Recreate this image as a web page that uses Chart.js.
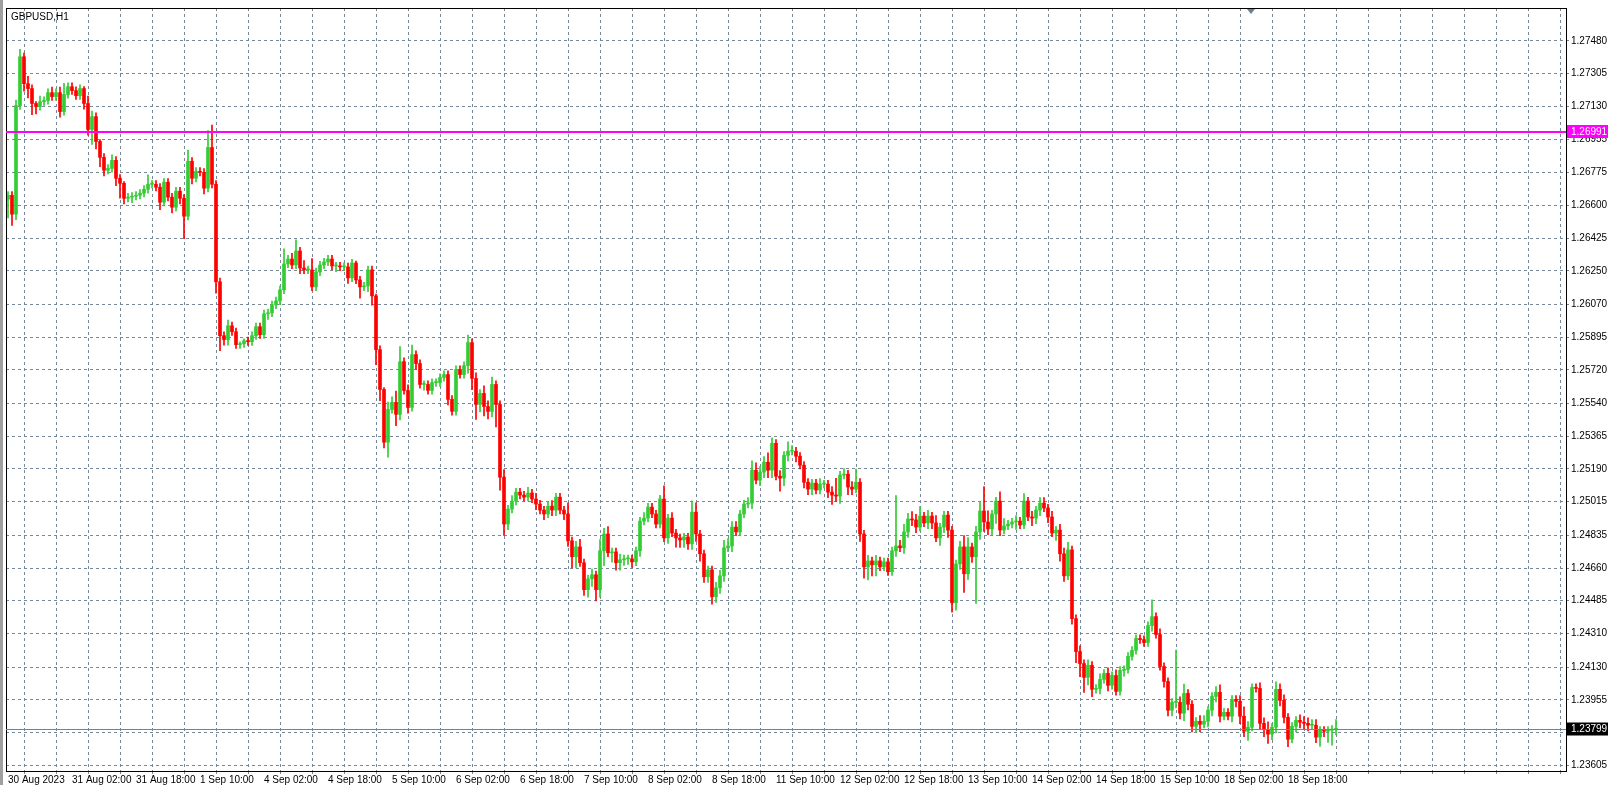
<!DOCTYPE html>
<html><head><meta charset="utf-8">
<script src="https://cdn.jsdelivr.net/npm/chart.js@4.4.0/dist/chart.umd.min.js"></script>
<style>html,body{margin:0;padding:0;background:#fff;}#wrap{width:1608px;height:785px;position:relative;}</style>
</head><body><div id="wrap"><canvas id="c" width="1608" height="785"></canvas></div>
<script>
const symbolTitle = "GBPUSD,H1";
const firstOpen = 1.26633;
const closes = [
1.26654,1.26553,1.27134,1.27395,1.27251,1.27225,1.27145,1.27129,1.27155,1.27161,
1.27203,1.27182,1.27203,1.27102,1.27193,1.27235,1.27214,1.27187,1.27225,1.27145,
1.27006,1.27075,1.26942,1.26857,1.26788,1.26798,1.26841,1.26745,1.26718,1.26638,
1.26644,1.26649,1.26654,1.26665,1.26686,1.26713,1.26713,1.26697,1.26617,1.26724,
1.26644,1.26590,1.26676,1.26638,1.26542,1.26836,1.26745,1.26782,1.26777,1.26692,
1.26910,1.26713,1.26191,1.25903,1.25882,1.25956,1.25924,1.25855,1.25860,1.25876,
1.25871,1.25903,1.25951,1.25908,1.26020,1.26025,1.26068,1.26089,1.26148,1.26287,
1.26313,1.26281,1.26356,1.26265,1.26255,1.26255,1.26164,1.26244,1.26281,1.26297,
1.26313,1.26276,1.26276,1.26271,1.26271,1.26212,1.26292,1.26201,1.26164,1.26169,
1.26255,1.26116,1.25828,1.25615,1.25333,1.25508,1.25546,1.25482,1.25764,1.25610,
1.25519,1.25802,1.25754,1.25642,1.25642,1.25610,1.25652,1.25652,1.25679,1.25695,
1.25562,1.25498,1.25722,1.25695,1.25743,1.25866,1.25674,
1.25535,1.25594,1.25524,1.25498,1.25642,1.25535,1.25146,1.24895,1.24975,1.25018,
1.25066,1.25050,1.25039,1.25061,1.25029,1.25002,1.24970,1.24949,1.24991,1.24970,
1.25039,1.24970,1.24949,1.24805,1.24720,1.24773,1.24688,1.24544,1.24602,1.24624,
1.24544,1.24752,1.24842,1.24741,1.24746,1.24688,1.24704,1.24709,1.24709,1.24693,
1.24752,1.24911,1.24927,1.24986,1.24949,1.24895,1.25029,1.24821,1.24927,1.24847,
1.24821,1.24810,1.24826,1.24789,1.24959,1.24842,1.24736,1.24613,1.24650,1.24506,
1.24554,1.24618,1.24768,1.24778,1.24879,1.24853,1.24949,1.25002,1.25007,1.25183,
1.25130,1.25173,1.25226,1.25183,
1.25327,1.25151,1.25141,1.25263,1.25285,1.25285,1.25258,1.25210,1.25119,1.25082,
1.25114,1.25077,1.25109,1.25109,1.25066,1.25050,1.25045,1.25157,1.25162,1.25093,
1.25082,1.25119,1.24842,1.24666,1.24698,1.24677,1.24698,1.24666,1.24693,1.24640,
1.24752,1.24778,1.24768,1.24853,1.24922,1.24917,1.24879,1.24938,1.24901,1.24938,
1.24901,1.24821,1.24879,1.24943,1.24863,1.24474,1.24682,1.24773,1.24629,1.24773,
1.24720,1.24853,1.24965,1.24906,1.24869,1.24949,1.25018,1.24863,1.24885,1.24895,
1.24906,1.24911,1.24890,1.25018,1.24933,1.24927,1.24970,1.25007,
1.24981,1.24933,1.24847,1.24863,1.24736,1.24618,1.24757,1.24389,1.24213,1.24149,
1.24075,1.24139,1.24011,1.24016,1.24064,1.24096,1.24032,1.24085,1.24000,1.24112,
1.24117,1.24187,1.24219,1.24283,1.24277,1.24261,1.24352,1.24400,1.24304,1.24133,
1.24053,1.23899,1.23941,1.23941,1.23883,1.23989,1.23931,1.23813,1.23840,1.23824,
1.23840,1.23899,1.23973,1.23995,1.23867,1.23888,1.23867,1.23957,1.23947,1.23867,
1.23787,1.23808,1.24021,1.24016,1.23829,1.23797,1.23771,1.23808,1.24011,1.23952,
1.23861,1.23744,1.23813,1.23845,1.23835,1.23829,1.23819,1.23819,1.23755,1.23792,
1.23787,1.23792,1.23797,1.23799
];
// upper / lower wick lengths in pips (0.0001)
const upWick = [
2,2,3,4,2,4,2,1,3,2, 2,3,2,3,6,2,2,2,2,1, 4,3,2,1,2,2,3,2,2,1, 2,2,2,2,2,5,2,2,2,2,
2,2,2,2,2,6,2,2,2,2, 9,12,2,2,2,3,2,2,1,1, 2,2,2,2,2,2,2,2,2,8, 2,3,6,2,4,2,6,2,2,2,
2,2,2,2,2,2,2,1,2,2, 2,2,1,2,1,4,3,6,8,2, 3,5,2,2,2,2,2,2,2,2, 2,2,2,2,2,4,2,
3,2,4,3,4,2,2,4,2,3, 2,2,2,3,2,3,2,2,2,3, 2,2,2,6,2,3,4,2,2,3, 2,6,3,4,2,2,3,2,2,2,
2,2,3,2,2,2,2,7,2,3, 2,2,2,2,6,5,2,2,2,2, 3,3,4,4,3,3,2,2,3,5, 4,3,3,5,
3,2,3,2,5,3,2,2,2,2, 2,2,3,2,2,3,9,2,3,2, 3,7,2,2,3,2,3,2,2,2, 2,27,3,4,3,4,3,5,2,3,
2,4,2,2,2,2,2,3,6,5, 2,3,5,13,6,2,2,5,4,2, 2,3,2,4,2,3,2,3,
3,2,3,2,3,3,4,2,2,3, 2,3,2,2,3,2,3,2,3,2, 2,2,2,2,2,2,2,9,2,3, 2,2,2,28,3,5,2,2,2,3,
3,2,2,3,4,2,2,2,2,3, 5,3,2,2,3,3,4,2,4,3, 3,2,2,2,3,3,3,3,3,2, 2,2,2,5
];
const downWick = [
10,6,3,2,4,5,6,4,2,2, 2,2,2,3,2,2,2,2,2,3, 3,8,4,5,3,2,2,4,8,3, 2,3,2,2,2,2,2,2,4,2,
2,3,2,3,12,2,3,2,2,3, 2,2,6,8,3,3,2,2,2,2, 2,2,2,2,2,3,2,2,2,2, 2,2,2,3,2,2,2,2,2,2,
2,2,3,2,2,3,2,2,6,2, 3,5,8,6,3,8,2,6,3,2, 3,2,3,2,3,2,2,2,2,2, 3,2,2,2,2,4,6,
8,4,5,4,3,12,7,6,3,2, 2,2,2,2,2,3,2,3,2,3, 3,2,3,3,6,6,2,3,4,4, 6,4,8,2,5,4,4,3,3,3,
2,3,2,2,2,2,2,2,3,2, 5,4,4,3,3,4,4,3,3,4, 3,3,3,2,3,2,2,2,2,3, 2,3,3,4,
4,2,7,4,3,2,3,2,3,3, 3,2,2,2,3,5,3,4,2,4, 3,2,4,6,7,6,6,2,2,2, 2,3,2,3,3,3,3,2,2,3,
3,2,4,3,4,5,4,3,10,3, 3,25,4,5,3,3,5,3,2,2, 2,4,2,2,2,4,3,3,
2,3,2,4,4,3,2,3,6,7, 8,4,4,2,3,2,3,2,2,2, 3,2,2,2,2,2,2,3,2,2, 3,3,3,3,3,4,3,3,3,4,
2,3,3,3,3,2,2,3,3,4, 3,5,2,2,3,4,5,3,3,3, 3,4,2,3,3,3,3,2,3,5, 3,6,8,3
];
const xTickLabels = ["30 Aug 2023","31 Aug 02:00","31 Aug 18:00","1 Sep 10:00","4 Sep 02:00","4 Sep 18:00",
"5 Sep 10:00","6 Sep 02:00","6 Sep 18:00","7 Sep 10:00","8 Sep 02:00","8 Sep 18:00","11 Sep 10:00",
"12 Sep 02:00","12 Sep 18:00","13 Sep 10:00","14 Sep 02:00","14 Sep 18:00","15 Sep 10:00","18 Sep 02:00","18 Sep 18:00"];
const yTickValues = [1.27480,1.27305,1.27130,1.26955,1.26775,1.26600,1.26425,1.26250,1.26070,1.25895,1.25720,
1.25540,1.25365,1.25190,1.25015,1.24835,1.24660,1.24485,1.24310,1.24130,1.23955,1.23780,1.23605];
const levelLine = 1.26991;
const bidLine = 1.23799;

const UP='#32cd32', DN='#ff0000', GRID='#778899';
const FONT='"Liberation Sans"';
const opens = closes.map((c,i)=> i===0 ? firstOpen : closes[i-1]);
const wickData=[], bodyData=[], colors=[];
closes.forEach((c,i)=>{
  const o=opens[i];
  const hi=Math.max(o,c)+upWick[i]*0.0001;
  const lo=Math.min(o,c)-downWick[i]*0.0001;
  wickData.push({x:i,y:[lo,hi]});
  bodyData.push({x:i,y:[Math.min(o,c),Math.max(o,c)]});
  colors.push(c>=o?UP:DN);
});

const overlay={id:'overlay',
  afterDraw(chart){
    const {ctx,chartArea:a,scales:{y}}=chart;
    ctx.save();
    ctx.fillStyle='#a0a0a0'; ctx.fillRect(0,0,3,785);
    ctx.strokeStyle='#000'; ctx.lineWidth=1;
    ctx.strokeRect(a.left+0.5,a.top+0.5,a.right-a.left,a.bottom-a.top);
    let py=Math.round(y.getPixelForValue(levelLine));
    ctx.strokeStyle='#ff00ff'; ctx.lineWidth=2;
    ctx.beginPath(); ctx.moveTo(a.left,py); ctx.lineTo(a.right,py); ctx.stroke();
    ctx.fillStyle='#ff00ff'; ctx.fillRect(a.right+1,py-7,41,13);
    ctx.fillStyle='#fff'; ctx.font='10px '+FONT; ctx.textBaseline='middle'; ctx.textAlign='left';
    ctx.fillText(levelLine.toFixed(5),a.right+5,py);
    py=Math.round(y.getPixelForValue(bidLine))+0.5;
    ctx.strokeStyle='#808080'; ctx.lineWidth=1;
    ctx.beginPath(); ctx.moveTo(a.left,py); ctx.lineTo(a.right,py); ctx.stroke();
    ctx.fillStyle='#000'; ctx.fillRect(a.right+1,py-7,41,13);
    ctx.fillStyle='#fff'; ctx.fillText(bidLine.toFixed(5),a.right+5,py);
    ctx.fillStyle='#000'; ctx.font='10px '+FONT;
    ctx.fillText(symbolTitle,a.left+5,a.top+9);
    ctx.fillStyle='#708090';
    ctx.beginPath(); ctx.moveTo(1247,a.top+1); ctx.lineTo(1255,a.top+1); ctx.lineTo(1251,a.top+6); ctx.closePath(); ctx.fill();
    ctx.restore();
  }};

new Chart(document.getElementById('c'),{
  type:'bar',
  data:{datasets:[
    {data:wickData,backgroundColor:colors,barThickness:1,grouped:false,order:2},
    {data:bodyData,backgroundColor:colors,barThickness:3,grouped:false,minBarLength:1,order:1}
  ]},
  options:{
    responsive:false,animation:false,
    layout:{padding:{left:6,top:2,right:0,bottom:0}},
    plugins:{legend:{display:false},tooltip:{enabled:false}},
    scales:{
      x:{type:'linear',min:-0.5,max:389.5,offset:false,
        afterBuildTicks(s){const t=[];for(let v=0;v<=384;v+=8)t.push({value:v});s.ticks=t;},
        afterFit(s){s.height=14;},
        grid:{color:GRID,lineWidth:1,tickLength:3,drawTicks:true},
        border:{display:false,dash:[3,3]},
        ticks:{autoSkip:false,maxRotation:0,align:'start',padding:0,color:'#000',font:{family:'Liberation Sans',size:10},
          callback:(v)=> v%16===0 ? (xTickLabels[v/16]||'') : ''}
      },
      y:{position:'right',min:1.23574,max:1.27656,
        afterBuildTicks(s){s.ticks=yTickValues.map(v=>({value:v}));},
        afterFit(s){s.width=42;},
        grid:{color:GRID,lineWidth:1,tickLength:3,drawTicks:true},
        border:{display:false,dash:[3,3]},
        ticks:{padding:2,color:'#000',font:{family:'Liberation Sans',size:10},callback:v=>Number(v).toFixed(5)}
      }
    }
  },
  plugins:[overlay]
});
</script></body></html>
